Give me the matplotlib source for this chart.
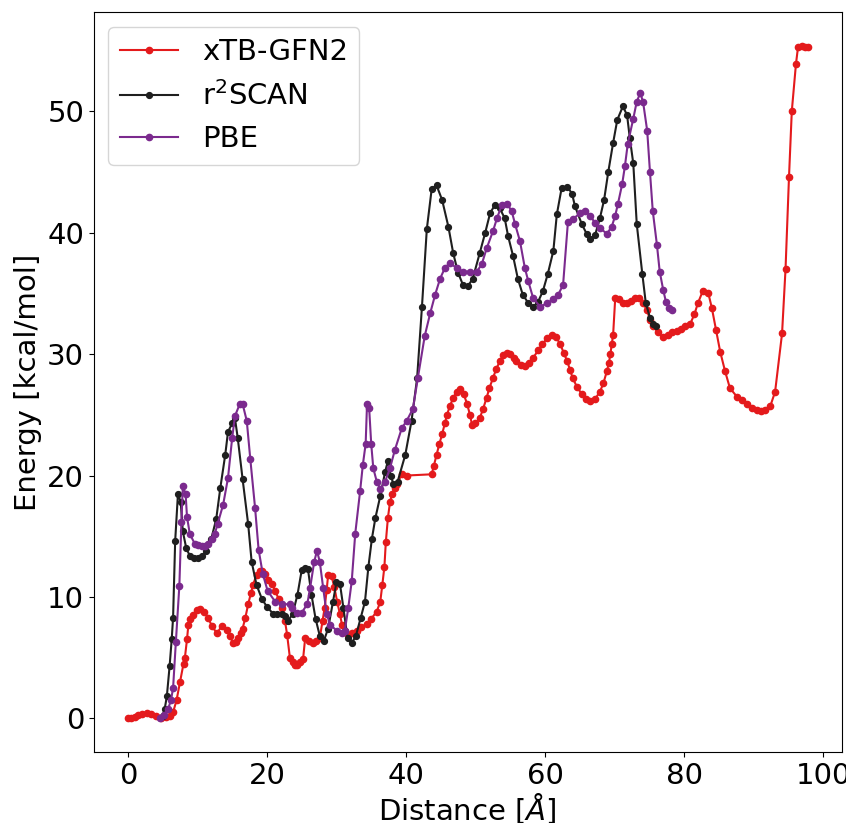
import matplotlib
matplotlib.use("Agg")
import matplotlib.pyplot as plt

xtb_x = [0.0, 0.5, 1.0, 1.5, 2.0, 2.7, 3.3, 4.0, 4.8, 5.5, 6.0, 6.5, 7.0, 7.5, 8.0, 8.2, 8.5, 8.7,
         9.0, 9.4, 9.9, 10.4, 11.0, 11.5, 12.1, 12.8, 13.5, 14.2, 14.7, 15.1, 15.5, 15.8, 16.2, 16.5,
         16.9, 17.3, 17.7, 18.0, 18.5, 19.0, 19.3, 19.7, 20.2, 20.7, 21.2, 21.7, 22.2, 22.6, 22.9,
         23.3, 23.7, 24.0, 24.3, 24.7, 25.2, 25.5, 26.0, 26.6, 27.1, 27.6, 28.0, 28.3, 28.6, 28.8,
         29.3, 29.7, 30.1, 30.5, 30.8, 31.2, 31.7, 32.3, 32.9, 33.6, 34.4, 35.0, 35.8, 36.3, 36.6,
         36.9, 37.1, 37.4, 37.7, 38.0, 38.4, 38.7, 39.4, 40.1, 43.7, 44.0, 44.4, 44.8, 45.2, 45.6,
         45.9, 46.3, 46.8, 47.3, 47.8, 48.3, 48.8, 49.2, 49.5, 50.0, 50.6, 51.1, 51.6, 52.0, 52.5,
         53.0, 53.5, 54.0, 54.5, 55.0, 55.5, 55.9, 56.5, 57.1, 57.7, 58.3, 59.0, 59.6, 60.3, 61.0,
         61.6, 62.2, 62.7, 63.2, 63.6, 64.0, 64.6, 65.3, 65.9, 66.5, 67.2, 67.9, 68.4, 68.9, 69.2,
         69.4, 69.6, 69.8, 70.1, 70.6, 71.2, 71.8, 72.4, 72.9, 73.5, 74.1, 74.7, 75.1, 75.6, 76.2,
         77.0, 77.7, 78.3, 79.0, 79.6, 80.2, 80.9, 81.5, 82.0, 82.7, 83.5, 84.0, 84.6, 85.2, 85.9,
         86.6, 87.6, 88.3, 89.0, 89.8, 90.5, 91.1, 91.7, 92.4, 93.1, 94.1, 94.6, 95.1, 95.5, 96.1,
         96.4, 96.9, 97.4, 97.8]
xtb_y = [0.0, 0.05, 0.15, 0.25, 0.35, 0.4, 0.35, 0.2, 0.0, 0.1, 0.2, 0.5, 1.5, 3.0, 4.5, 5.0, 6.5, 7.7,
         8.2, 8.5, 8.9, 9.0, 8.8, 8.3, 7.6, 7.0, 7.6, 7.3, 6.8, 6.2, 6.3, 6.6, 7.0, 7.4,
         8.3, 9.4, 10.3, 11.0, 11.8, 12.1, 12.1, 11.9, 11.4, 11.1, 10.5, 9.8, 9.1, 8.0, 6.9,
         5.0, 4.6, 4.4, 4.4, 4.6, 4.9, 6.6, 6.4, 6.2, 6.4, 6.6, 8.0, 9.1, 10.6, 11.8,
         11.7, 10.8, 9.6, 8.6, 7.7, 7.2, 6.9, 7.0, 7.2, 7.5, 7.8, 8.2, 8.8, 9.6, 11.0,
         12.5, 14.5, 16.5, 17.8, 18.5, 19.0, 19.3, 20.1, 20.0, 20.1, 20.8, 21.7, 22.6, 23.4, 24.3,
         25.0, 25.7, 26.4, 26.9, 27.1, 26.7, 25.9, 25.0, 24.2, 24.3, 24.7, 25.5, 26.4, 27.2, 28.0,
         28.8, 29.4, 29.9, 30.1, 30.0, 29.7, 29.4, 29.1, 29.0, 29.3, 29.7, 30.3, 30.8, 31.3, 31.6,
         31.4, 30.8, 30.1, 29.4, 28.7, 28.0, 27.3, 26.7, 26.3, 26.1, 26.3, 26.9, 27.6, 28.6, 29.3,
         30.0, 30.8, 31.6, 34.6, 34.5, 34.2, 34.2, 34.4, 34.6, 34.6, 34.2, 33.6, 32.8, 32.3, 31.8,
         31.4, 31.6, 31.8, 31.9, 32.1, 32.3, 32.5, 33.3, 34.2, 35.2, 35.0, 33.8, 32.0, 30.2, 28.6,
         27.2, 26.5, 26.2, 25.9, 25.6, 25.4, 25.3, 25.4, 25.7, 26.9, 31.7, 37.0, 44.6, 50.0, 53.9,
         55.3, 55.4, 55.3, 55.3]

r2scan_x = [5.0, 5.3, 5.6, 6.0, 6.3, 6.5, 6.8, 7.2, 7.6, 7.9, 8.4, 8.9, 9.5, 10.1, 10.7, 11.3, 12.0,
            12.7, 13.3, 14.0, 14.4, 15.0, 15.4, 15.8, 16.5, 17.3, 17.8, 18.5, 19.3, 20.0, 20.9, 21.5,
            22.1, 22.6, 23.0, 23.7, 24.4, 25.0, 25.5, 25.9, 26.4, 27.0, 27.6, 28.2, 28.8, 29.5, 30.0,
            30.5, 31.0, 31.6, 32.2, 32.8, 33.5, 34.1, 34.6, 35.1, 35.6, 36.3, 37.0, 37.4, 37.8, 38.2,
            38.8, 39.9, 40.8, 41.6, 42.3, 43.0, 43.7, 44.4, 45.2, 46.1, 46.8, 47.5, 48.2, 48.9, 49.6,
            50.6, 51.4, 52.1, 52.8, 53.5, 54.2, 54.7, 55.4, 56.1, 56.8, 57.6, 58.3, 59.0, 59.7, 60.4,
            61.2, 61.7, 62.4, 63.2, 63.9, 64.3, 65.3, 66.0, 66.5, 67.2, 67.9, 68.5, 69.1, 69.8, 70.4,
            71.2, 71.8, 72.2, 72.7, 73.2, 74.0, 74.5, 75.1, 75.6, 76.0]
r2scan_y = [0.2, 0.8, 1.8, 4.3, 6.5, 8.3, 14.6, 18.5, 17.8, 15.4, 14.0, 13.4, 13.2, 13.2, 13.4, 13.8, 14.8,
            16.4, 19.0, 21.7, 23.6, 24.3, 24.7, 23.1, 19.7, 16.0, 12.9, 11.0, 9.8, 9.2, 8.6, 8.6,
            8.6, 8.4, 8.0, 8.6, 10.2, 12.2, 12.4, 12.3, 10.2, 8.2, 6.8, 6.4, 7.4, 9.6, 11.2,
            11.1, 9.1, 6.6, 6.2, 6.8, 8.3, 9.6, 12.5, 14.8, 16.5, 18.3, 20.3, 21.2, 20.0, 19.3,
            19.5, 21.7, 24.5, 28.0, 33.9, 40.3, 43.6, 43.9, 42.7, 40.5, 38.3, 36.7, 35.7, 35.6, 36.2,
            38.3, 40.0, 41.6, 42.3, 42.0, 41.2, 39.7, 38.1, 36.2, 34.9, 34.2, 33.9, 34.3, 35.2, 36.6,
            38.5, 41.5, 43.7, 43.8, 43.2, 42.2, 40.7, 39.9, 39.5, 39.8, 41.2, 42.7, 45.0, 47.4, 49.3,
            50.4, 49.7, 47.8, 45.7, 40.7, 36.6, 34.2, 33.0, 32.5, 32.3]

pbe_x = [4.6, 5.2, 5.8, 6.2, 6.5, 6.9, 7.4, 7.7, 7.9, 8.3, 8.5, 8.9, 9.6, 10.1, 10.6, 11.1, 11.5, 12.1,
         12.5, 12.9, 13.7, 14.4, 15.0, 15.4, 16.1, 16.5, 17.1, 17.6, 18.3, 18.8, 19.4, 20.1, 21.2, 22.2,
         23.3, 23.6, 24.3, 25.0, 25.8, 26.2, 26.8, 27.2, 27.6, 28.1, 28.6, 29.1, 30.1, 30.8, 31.2, 31.7,
         32.2, 32.7, 33.4, 33.8, 34.2, 34.4, 34.7, 35.0, 35.3, 35.8, 36.3, 37.0, 37.7, 38.4, 39.4, 40.1,
         41.0, 41.7, 42.7, 43.5, 44.2, 44.9, 45.6, 46.3, 47.3, 48.2, 49.2, 50.2, 50.9, 51.6, 52.5, 53.1,
         53.8, 54.5, 55.2, 55.7, 56.4, 57.1, 57.6, 58.3, 59.3, 60.3, 61.2, 61.9, 62.6, 63.3, 64.0, 65.0,
         65.8, 66.5, 67.2, 67.9, 68.9, 69.6, 70.1, 70.5, 71.1, 71.5, 71.9, 72.7, 73.2, 73.7, 74.1, 74.7,
         75.1, 75.5, 76.1, 76.5, 77.0, 77.4, 77.8, 78.3]
pbe_y = [0.0, 0.3, 0.8, 1.5, 2.5, 6.3, 10.9, 16.2, 19.1, 18.5, 16.6, 15.2, 14.4, 14.3, 14.2, 14.2, 14.4, 14.8,
         15.2, 16.0, 17.6, 19.8, 23.1, 24.9, 25.9, 25.9, 24.5, 21.4, 17.3, 13.9, 11.9, 10.5, 9.6, 9.4,
         9.4, 9.1, 8.7, 8.7, 9.4, 10.7, 12.9, 13.8, 12.9, 10.7, 8.6, 7.7, 7.2, 7.0, 7.2, 9.1,
         11.3, 15.2, 18.7, 20.9, 22.6, 25.9, 25.6, 22.6, 20.6, 19.5, 18.9, 19.5, 20.6, 22.1, 23.9, 24.5,
         25.5, 28.0, 31.5, 33.4, 34.9, 36.2, 37.1, 37.5, 37.1, 36.8, 36.8, 36.8, 37.4, 38.7, 40.1, 41.2,
         42.3, 42.4, 41.8, 40.7, 39.3, 37.1, 36.0, 34.6, 33.9, 34.2, 34.5, 34.9, 35.7, 40.9, 41.1, 41.6,
         41.8, 41.4, 40.8, 40.4, 39.9, 40.5, 41.4, 42.4, 44.0, 45.5, 47.3, 49.4, 50.8, 51.5, 50.8, 48.4,
         45.0, 41.8, 39.0, 36.8, 35.3, 34.3, 33.8, 33.6]

fig = plt.figure(figsize=(8.46, 8.23), dpi=100)
ax = fig.add_axes([0.111, 0.0863, 0.884, 0.899])

ax.plot(xtb_x, xtb_y, '-o', color='#e41a1c', lw=1.5, ms=4.5, label='xTB-GFN2')
ax.plot(r2scan_x, r2scan_y, '-o', color='#1f1f1f', lw=1.5, ms=4.2, label=r'r$^2$SCAN')
ax.plot(pbe_x, pbe_y, '-o', color='#7b2a8e', lw=1.5, ms=4.5, label='PBE')

fs = 21
ax.set_xlabel(r'Distance [$\AA$]', fontsize=fs, labelpad=1)
ax.set_ylabel('Energy [kcal/mol]', fontsize=fs)
ax.tick_params(labelsize=fs)
ax.set_xticks([0, 20, 40, 60, 80, 100])
ax.set_yticks([0, 10, 20, 30, 40, 50])
ax.legend(loc='upper left', fontsize=fs)

fig.savefig('out.png', dpi=100)
